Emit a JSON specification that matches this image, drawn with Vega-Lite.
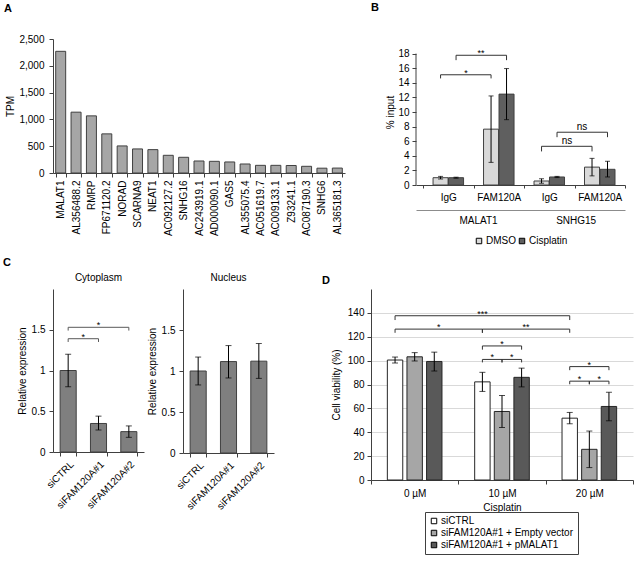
{
  "$schema": "https://vega.github.io/schema/vega-lite/v6.json",
  "padding": {"left": 3, "top": 2, "right": 0, "bottom": 0},
  "config": {
    "font": "Liberation Sans",
    "view": {"stroke": null},
    "axis": {"labelFont": "Liberation Sans", "titleFont": "Liberation Sans", "labelFontSize": 10, "titleFontSize": 10, "titleFontWeight": "normal", "labelColor": "#000", "titleColor": "#000", "domainColor": "#404040", "tickColor": "#404040", "tickSize": 4, "grid": false, "labelPadding": 3, "titlePadding": 4, "labelOverlap": false},
    "title": {"font": "Liberation Sans", "fontSize": 11, "fontWeight": "bold", "anchor": "start", "frame": "group", "color": "#000"},
    "legend": {"labelFont": "Liberation Sans", "labelFontSize": 10, "labelColor": "#000", "symbolType": "square", "symbolSize": 30, "symbolStrokeColor": "#000", "symbolStrokeWidth": 1}
  },
  "datasets": {
    "tpm": [
      {"gene": "MALAT1", "tpm": 2270}, {"gene": "AL356488.2", "tpm": 1135}, {"gene": "RMRP", "tpm": 1066},
      {"gene": "FP671120.2", "tpm": 730}, {"gene": "NORAD", "tpm": 505}, {"gene": "SCARNA9", "tpm": 449},
      {"gene": "NEAT1", "tpm": 436}, {"gene": "AC092127.2", "tpm": 330}, {"gene": "SNHG16", "tpm": 293},
      {"gene": "AC243919.1", "tpm": 224}, {"gene": "AD000090.1", "tpm": 218}, {"gene": "GAS5", "tpm": 206},
      {"gene": "AL355075.4", "tpm": 168}, {"gene": "AC051619.7", "tpm": 143}, {"gene": "AC009133.1", "tpm": 143},
      {"gene": "Z93241.1", "tpm": 140}, {"gene": "AC087190.3", "tpm": 125}, {"gene": "SNHG6", "tpm": 90},
      {"gene": "AL365181.3", "tpm": 92}
    ],
    "rip": [
      {"cat": "MALAT1 IgG", "gene": "MALAT1", "treat": "DMSO", "v": 1.0, "lo": 0.82, "hi": 1.18},
      {"cat": "MALAT1 IgG", "gene": "MALAT1", "treat": "Cisplatin", "v": 1.0, "lo": 0.93, "hi": 1.07},
      {"cat": "MALAT1 FAM120A", "gene": "MALAT1", "treat": "DMSO", "v": 7.65, "lo": 3.1, "hi": 12.2},
      {"cat": "MALAT1 FAM120A", "gene": "MALAT1", "treat": "Cisplatin", "v": 12.45, "lo": 8.95, "hi": 15.95},
      {"cat": "SNHG15 IgG", "gene": "SNHG15", "treat": "DMSO", "v": 0.55, "lo": 0.25, "hi": 0.85},
      {"cat": "SNHG15 IgG", "gene": "SNHG15", "treat": "Cisplatin", "v": 1.1, "lo": 1.02, "hi": 1.18},
      {"cat": "SNHG15 FAM120A", "gene": "SNHG15", "treat": "DMSO", "v": 2.45, "lo": 1.25, "hi": 3.65},
      {"cat": "SNHG15 FAM120A", "gene": "SNHG15", "treat": "Cisplatin", "v": 2.15, "lo": 1.1, "hi": 3.25}
    ],
    "ripBrackets": [
      {"id": "b1", "k": 0, "cat": "MALAT1 IgG", "treat": "DMSO", "y": 14.6},
      {"id": "b1", "k": 1, "cat": "MALAT1 IgG", "treat": "DMSO", "y": 15.1},
      {"id": "b1", "k": 2, "cat": "MALAT1 FAM120A", "treat": "DMSO", "y": 15.1},
      {"id": "b1", "k": 3, "cat": "MALAT1 FAM120A", "treat": "DMSO", "y": 14.6},
      {"id": "b2", "k": 0, "cat": "MALAT1 IgG", "treat": "Cisplatin", "y": 17.1},
      {"id": "b2", "k": 1, "cat": "MALAT1 IgG", "treat": "Cisplatin", "y": 17.77},
      {"id": "b2", "k": 2, "cat": "MALAT1 FAM120A", "treat": "Cisplatin", "y": 17.77},
      {"id": "b2", "k": 3, "cat": "MALAT1 FAM120A", "treat": "Cisplatin", "y": 17.1},
      {"id": "b3", "k": 0, "cat": "SNHG15 IgG", "treat": "DMSO", "y": 4.6},
      {"id": "b3", "k": 1, "cat": "SNHG15 IgG", "treat": "DMSO", "y": 5.3},
      {"id": "b3", "k": 2, "cat": "SNHG15 FAM120A", "treat": "DMSO", "y": 5.3},
      {"id": "b3", "k": 3, "cat": "SNHG15 FAM120A", "treat": "DMSO", "y": 4.6},
      {"id": "b4", "k": 0, "cat": "SNHG15 IgG", "treat": "Cisplatin", "y": 6.55},
      {"id": "b4", "k": 1, "cat": "SNHG15 IgG", "treat": "Cisplatin", "y": 7.23},
      {"id": "b4", "k": 2, "cat": "SNHG15 FAM120A", "treat": "Cisplatin", "y": 7.23},
      {"id": "b4", "k": 3, "cat": "SNHG15 FAM120A", "treat": "Cisplatin", "y": 6.55}
    ],
    "ripStarR": [{"cat": "MALAT1 IgG", "treat": "Cisplatin", "y": 15.1, "label": "*"}],
    "ripStarL": [{"cat": "MALAT1 FAM120A", "treat": "DMSO", "y": 17.77, "label": "**"}],
    "ripNsR": [{"cat": "SNHG15 IgG", "treat": "Cisplatin", "y": 5.3, "label": "ns"}],
    "ripNsL": [{"cat": "SNHG15 FAM120A", "treat": "DMSO", "y": 7.23, "label": "ns"}],
    "cyto": [
      {"cond": "siCTRL", "v": 1.0, "lo": 0.8, "hi": 1.2},
      {"cond": "siFAM120A#1", "v": 0.35, "lo": 0.27, "hi": 0.44},
      {"cond": "siFAM120A#2", "v": 0.25, "lo": 0.18, "hi": 0.32}
    ],
    "nuc": [
      {"cond": "siCTRL", "v": 1.0, "lo": 0.83, "hi": 1.17},
      {"cond": "siFAM120A#1", "v": 1.115, "lo": 0.915, "hi": 1.31},
      {"cond": "siFAM120A#2", "v": 1.12, "lo": 0.91, "hi": 1.335}
    ],
    "cytoBrackets": [
      {"id": "c1", "k": 0, "cond": "siCTRL", "y": 1.35},
      {"id": "c1", "k": 1, "cond": "siCTRL", "y": 1.39},
      {"id": "c1", "k": 2, "cond": "siFAM120A#1", "y": 1.39},
      {"id": "c1", "k": 3, "cond": "siFAM120A#1", "y": 1.35},
      {"id": "c2", "k": 0, "cond": "siCTRL", "y": 1.49},
      {"id": "c2", "k": 1, "cond": "siCTRL", "y": 1.53},
      {"id": "c2", "k": 2, "cond": "siFAM120A#2", "y": 1.53},
      {"id": "c2", "k": 3, "cond": "siFAM120A#2", "y": 1.49}
    ],
    "cytoStarMid": [{"cond": "siFAM120A#1", "y": 1.53, "label": "*"}],
    "cytoStarHalf": [{"cond": "siCTRL", "y": 1.39, "label": "*"}],
    "via": [
      {"dose": "0 µM", "grp": "siCTRL", "v": 100.5, "lo": 98.0, "hi": 103.0},
      {"dose": "0 µM", "grp": "siFAM120A#1 + Empty vector", "v": 103.2, "lo": 99.7, "hi": 106.7},
      {"dose": "0 µM", "grp": "siFAM120A#1 + pMALAT1", "v": 99.3, "lo": 91.3, "hi": 107.1},
      {"dose": "10 µM", "grp": "siCTRL", "v": 82.2, "lo": 74.2, "hi": 90.2},
      {"dose": "10 µM", "grp": "siFAM120A#1 + Empty vector", "v": 57.4, "lo": 44.0, "hi": 70.8},
      {"dose": "10 µM", "grp": "siFAM120A#1 + pMALAT1", "v": 86.0, "lo": 78.0, "hi": 93.7},
      {"dose": "20 µM", "grp": "siCTRL", "v": 51.8, "lo": 47.1, "hi": 56.6},
      {"dose": "20 µM", "grp": "siFAM120A#1 + Empty vector", "v": 25.7, "lo": 10.4, "hi": 41.0},
      {"dose": "20 µM", "grp": "siFAM120A#1 + pMALAT1", "v": 61.6, "lo": 49.6, "hi": 73.5}
    ],
    "viaBrackets": [
      {"id": "d1", "k": 0, "dose": "0 µM", "grp": "siCTRL", "y": 134},
      {"id": "d1", "k": 1, "dose": "0 µM", "grp": "siCTRL", "y": 137.6},
      {"id": "d1", "k": 2, "dose": "20 µM", "grp": "siCTRL", "y": 137.6},
      {"id": "d1", "k": 3, "dose": "20 µM", "grp": "siCTRL", "y": 134},
      {"id": "d2", "k": 0, "dose": "0 µM", "grp": "siCTRL", "y": 123.3},
      {"id": "d2", "k": 1, "dose": "0 µM", "grp": "siCTRL", "y": 126.4},
      {"id": "d2", "k": 2, "dose": "10 µM", "grp": "siCTRL", "y": 126.4},
      {"id": "d2", "k": 3, "dose": "10 µM", "grp": "siCTRL", "y": 123.3},
      {"id": "d3", "k": 0, "dose": "10 µM", "grp": "siCTRL", "y": 123.3},
      {"id": "d3", "k": 1, "dose": "10 µM", "grp": "siCTRL", "y": 126.4},
      {"id": "d3", "k": 2, "dose": "20 µM", "grp": "siCTRL", "y": 126.4},
      {"id": "d3", "k": 3, "dose": "20 µM", "grp": "siCTRL", "y": 123.3},
      {"id": "d4", "k": 0, "dose": "10 µM", "grp": "siCTRL", "y": 109.2},
      {"id": "d4", "k": 1, "dose": "10 µM", "grp": "siCTRL", "y": 112.3},
      {"id": "d4", "k": 2, "dose": "10 µM", "grp": "siFAM120A#1 + pMALAT1", "y": 112.3},
      {"id": "d4", "k": 3, "dose": "10 µM", "grp": "siFAM120A#1 + pMALAT1", "y": 109.2},
      {"id": "d5", "k": 0, "dose": "10 µM", "grp": "siCTRL", "y": 98.5},
      {"id": "d5", "k": 1, "dose": "10 µM", "grp": "siCTRL", "y": 101},
      {"id": "d5", "k": 2, "dose": "10 µM", "grp": "siFAM120A#1 + Empty vector", "y": 101},
      {"id": "d5", "k": 3, "dose": "10 µM", "grp": "siFAM120A#1 + Empty vector", "y": 98.5},
      {"id": "d6", "k": 0, "dose": "10 µM", "grp": "siFAM120A#1 + Empty vector", "y": 98.5},
      {"id": "d6", "k": 1, "dose": "10 µM", "grp": "siFAM120A#1 + Empty vector", "y": 101},
      {"id": "d6", "k": 2, "dose": "10 µM", "grp": "siFAM120A#1 + pMALAT1", "y": 101},
      {"id": "d6", "k": 3, "dose": "10 µM", "grp": "siFAM120A#1 + pMALAT1", "y": 98.5},
      {"id": "d7", "k": 0, "dose": "20 µM", "grp": "siCTRL", "y": 92},
      {"id": "d7", "k": 1, "dose": "20 µM", "grp": "siCTRL", "y": 95},
      {"id": "d7", "k": 2, "dose": "20 µM", "grp": "siFAM120A#1 + pMALAT1", "y": 95},
      {"id": "d7", "k": 3, "dose": "20 µM", "grp": "siFAM120A#1 + pMALAT1", "y": 92},
      {"id": "d8", "k": 0, "dose": "20 µM", "grp": "siCTRL", "y": 80.2},
      {"id": "d8", "k": 1, "dose": "20 µM", "grp": "siCTRL", "y": 82.8},
      {"id": "d8", "k": 2, "dose": "20 µM", "grp": "siFAM120A#1 + Empty vector", "y": 82.8},
      {"id": "d8", "k": 3, "dose": "20 µM", "grp": "siFAM120A#1 + Empty vector", "y": 80.2},
      {"id": "d9", "k": 0, "dose": "20 µM", "grp": "siFAM120A#1 + Empty vector", "y": 80.2},
      {"id": "d9", "k": 1, "dose": "20 µM", "grp": "siFAM120A#1 + Empty vector", "y": 82.8},
      {"id": "d9", "k": 2, "dose": "20 µM", "grp": "siFAM120A#1 + pMALAT1", "y": 82.8},
      {"id": "d9", "k": 3, "dose": "20 µM", "grp": "siFAM120A#1 + pMALAT1", "y": 80.2}
    ],
    "viaStarMid": [
      {"dose": "10 µM", "grp": "siCTRL", "y": 137.6, "label": "***"},
      {"dose": "10 µM", "grp": "siFAM120A#1 + Empty vector", "y": 112.3, "label": "*"},
      {"dose": "20 µM", "grp": "siFAM120A#1 + Empty vector", "y": 95, "label": "*"}
    ],
    "viaStarDose": [
      {"dose": "0 µM", "grp": "siFAM120A#1 + pMALAT1", "y": 126.4, "label": "*"},
      {"dose": "10 µM", "grp": "siFAM120A#1 + pMALAT1", "y": 126.4, "label": "**"}
    ],
    "viaStarPair": [
      {"dose": "10 µM", "grp": "siCTRL", "y": 101, "label": "*"},
      {"dose": "10 µM", "grp": "siFAM120A#1 + Empty vector", "y": 101, "label": "*"},
      {"dose": "20 µM", "grp": "siCTRL", "y": 82.8, "label": "*"},
      {"dose": "20 µM", "grp": "siFAM120A#1 + Empty vector", "y": 82.8, "label": "*"}
    ]
  },
  "bounds": "full",
  "spacing": 11,
  "resolve": {"scale": {"color": "independent", "xOffset": "independent"}, "legend": {"color": "independent"}},
  "vconcat": [
    {
      "bounds": "flush",
      "spacing": 71,
      "resolve": {"scale": {"color": "independent", "xOffset": "independent"}, "legend": {"color": "independent"}},
      "hconcat": [
        {
          "width": 292,
          "height": 134,
          "title": {"text": "A", "dx": -49, "offset": 20},
          "data": {"name": "tpm"},
          "mark": {"type": "bar", "fill": "#a6a6a6", "stroke": "#404040", "strokeWidth": 1},
          "encoding": {
            "x": {"field": "gene", "type": "nominal", "sort": null, "scale": {"paddingInner": 0.35, "paddingOuter": 0.175}, "axis": {"title": null, "labelAngle": -90, "labelAlign": "right", "labelBaseline": "middle", "tickBand": "extent", "labelPadding": 3}},
            "y": {"field": "tpm", "type": "quantitative", "scale": {"domain": [0, 2500]}, "axis": {"title": "TPM", "format": ",d", "values": [0, 500, 1000, 1500, 2000, 2500], "tickCount": 30, "labelPadding": 5, "titlePadding": 3}}
          }
        },
        {
          "width": 209,
          "height": 146,
          "title": {"text": "B", "dx": -45, "offset": 26},
          "resolve": {"scale": {"x": "independent"}, "axis": {"x": "independent"}},
          "layer": [
            {
              "encoding": {
                "x": {"field": "cat", "type": "nominal", "sort": null, "scale": {"domain": ["MALAT1 IgG", "MALAT1 FAM120A", "SNHG15 IgG", "SNHG15 FAM120A"], "paddingInner": 0, "paddingOuter": 0.07, "align": 1}, "axis": {"orient": "bottom", "title": null, "labelAngle": 0, "labelExpr": "split(datum.label, ' ')[1]", "tickBand": "extent", "tickSize": 3, "labelPadding": 4}},
                "xOffset": {"field": "treat", "type": "nominal", "sort": null, "scale": {"domain": ["DMSO", "Cisplatin"], "paddingInner": 0.03, "paddingOuter": 0.645}}
              },
              "layer": [
                {
                  "data": {"name": "rip"},
                  "mark": {"type": "bar", "stroke": "#404040", "strokeWidth": 1},
                  "encoding": {
                    "y": {"field": "v", "type": "quantitative", "scale": {"domain": [0, 20]}, "axis": {"title": "% input", "values": [0, 2, 4, 6, 8, 10, 12, 14, 16, 18], "tickCount": 30, "format": "d", "domain": false, "titlePadding": 2}},
                    "color": {"field": "treat", "type": "nominal", "sort": null, "scale": {"domain": ["DMSO", "Cisplatin"], "range": ["#d9d9d9", "#5f5f5f"]}, "legend": {"orient": "none", "legendX": 58, "legendY": 197, "direction": "horizontal", "title": null, "columnPadding": 1, "labelOffset": 2}}
                  }
                },
                {
                  "data": {"name": "rip"},
                  "mark": {"type": "rule", "color": "#000", "strokeWidth": 1},
                  "encoding": {"y": {"field": "lo", "type": "quantitative"}, "y2": {"field": "hi"}}
                },
                {
                  "data": {"name": "rip"},
                  "mark": {"type": "tick", "color": "#000", "size": 5, "thickness": 1},
                  "encoding": {"y": {"field": "lo", "type": "quantitative"}}
                },
                {
                  "data": {"name": "rip"},
                  "mark": {"type": "tick", "color": "#000", "size": 5, "thickness": 1},
                  "encoding": {"y": {"field": "hi", "type": "quantitative"}}
                },
                {
                  "data": {"name": "ripBrackets"},
                  "mark": {"type": "line", "color": "#333", "strokeWidth": 1},
                  "encoding": {"y": {"field": "y", "type": "quantitative"}, "detail": {"field": "id"}, "order": {"field": "k", "type": "quantitative"}}
                },
                {
                  "data": {"name": "ripStarR"},
                  "mark": {"type": "text", "fontSize": 9, "dx": 10, "dy": 1, "baseline": "alphabetic"},
                  "encoding": {"y": {"field": "y", "type": "quantitative"}, "text": {"field": "label"}}
                },
                {
                  "data": {"name": "ripStarL"},
                  "mark": {"type": "text", "fontSize": 9, "dx": -10, "dy": 1, "baseline": "alphabetic"},
                  "encoding": {"y": {"field": "y", "type": "quantitative"}, "text": {"field": "label"}}
                },
                {
                  "data": {"name": "ripNsR"},
                  "mark": {"type": "text", "fontSize": 10, "dx": 10, "dy": -2, "baseline": "alphabetic"},
                  "encoding": {"y": {"field": "y", "type": "quantitative"}, "text": {"field": "label"}}
                },
                {
                  "data": {"name": "ripNsL"},
                  "mark": {"type": "text", "fontSize": 10, "dx": -10, "dy": -2, "baseline": "alphabetic"},
                  "encoding": {"y": {"field": "y", "type": "quantitative"}, "text": {"field": "label"}}
                }
              ]
            },
            {
              "data": {"values": [{"axis": "y"}]},
              "mark": {"type": "rule", "color": "#404040"},
              "encoding": {
                "x": {"datum": 0, "type": "quantitative", "scale": {"domain": [0, 1]}, "axis": null},
                "y": {"datum": 0, "type": "quantitative"},
                "y2": {"datum": 18}
              }
            },
            {
              "data": {"name": "rip"},
              "mark": {"type": "tick", "opacity": 0},
              "encoding": {
                "x": {"field": "gene", "type": "nominal", "sort": null, "scale": {"domain": ["MALAT1", "SNHG15"], "paddingInner": 0, "paddingOuter": 0.07, "align": 1}, "axis": {"orient": "bottom", "offset": 25, "title": null, "ticks": false, "labelAngle": 0, "labelPadding": 5, "domainColor": "#8c8c8c"}},
                "y": {"field": "v", "type": "quantitative"}
              }
            }
          ]
        }
      ]
    },
    {
      "title": {"text": "C", "dx": -50, "offset": 5},
      "bounds": "full",
      "spacing": 48,
      "resolve": {"scale": {"color": "independent", "xOffset": "independent"}, "legend": {"color": "independent"}},
      "hconcat": [
        {
          "bounds": "flush",
          "spacing": 39,
          "hconcat": [
            {
              "width": 91,
              "height": 163,
              "title": {"text": "Cytoplasm", "anchor": "middle", "fontSize": 10, "fontWeight": "normal", "offset": 6},
              "encoding": {
                "x": {"field": "cond", "type": "nominal", "sort": null, "scale": {"domain": ["siCTRL", "siFAM120A#1", "siFAM120A#2"], "paddingInner": 0.47, "paddingOuter": 0.235}, "axis": {"title": null, "labelAngle": -45, "tickBand": "extent"}}
              },
              "layer": [
                {
                  "data": {"name": "cyto"},
                  "mark": {"type": "bar", "fill": "#7f7f7f", "stroke": "#404040", "strokeWidth": 1},
                  "encoding": {"y": {"field": "v", "type": "quantitative", "scale": {"domain": [0, 1.82]}, "axis": {"title": "Relative expression", "values": [0, 0.5, 1, 1.5], "tickCount": 30, "format": "~g", "labelPadding": 4}}}
                },
                {"data": {"name": "cyto"}, "mark": {"type": "rule", "color": "#000"}, "encoding": {"y": {"field": "lo", "type": "quantitative"}, "y2": {"field": "hi"}}},
                {"data": {"name": "cyto"}, "mark": {"type": "tick", "color": "#000", "size": 6, "thickness": 1}, "encoding": {"y": {"field": "lo", "type": "quantitative"}}},
                {"data": {"name": "cyto"}, "mark": {"type": "tick", "color": "#000", "size": 6, "thickness": 1}, "encoding": {"y": {"field": "hi", "type": "quantitative"}}},
                {
                  "data": {"name": "cytoBrackets"},
                  "mark": {"type": "line", "color": "#595959", "strokeWidth": 1},
                  "encoding": {"y": {"field": "y", "type": "quantitative"}, "detail": {"field": "id"}, "order": {"field": "k", "type": "quantitative"}}
                },
                {
                  "data": {"name": "cytoStarMid"},
                  "mark": {"type": "text", "fontSize": 9, "dy": 1, "baseline": "alphabetic"},
                  "encoding": {"y": {"field": "y", "type": "quantitative"}, "text": {"field": "label"}}
                },
                {
                  "data": {"name": "cytoStarHalf"},
                  "mark": {"type": "text", "fontSize": 9, "dx": 15.2, "dy": 1, "baseline": "alphabetic"},
                  "encoding": {"y": {"field": "y", "type": "quantitative"}, "text": {"field": "label"}}
                }
              ]
            },
            {
              "width": 91,
              "height": 164,
              "title": {"text": "Nucleus", "anchor": "middle", "fontSize": 10, "fontWeight": "normal", "offset": 6},
              "encoding": {
                "x": {"field": "cond", "type": "nominal", "sort": null, "scale": {"domain": ["siCTRL", "siFAM120A#1", "siFAM120A#2"], "paddingInner": 0.47, "paddingOuter": 0.235}, "axis": {"title": null, "labelAngle": -45, "tickBand": "extent"}}
              },
              "layer": [
                {
                  "data": {"name": "nuc"},
                  "mark": {"type": "bar", "fill": "#7f7f7f", "stroke": "#404040", "strokeWidth": 1},
                  "encoding": {"y": {"field": "v", "type": "quantitative", "scale": {"domain": [0, 1.87]}, "axis": {"title": "Relative expression", "values": [0, 0.5, 1, 1.5], "tickCount": 30, "format": "~g", "labelPadding": 4}}}
                },
                {"data": {"name": "nuc"}, "mark": {"type": "rule", "color": "#000"}, "encoding": {"y": {"field": "lo", "type": "quantitative"}, "y2": {"field": "hi"}}},
                {"data": {"name": "nuc"}, "mark": {"type": "tick", "color": "#000", "size": 6, "thickness": 1}, "encoding": {"y": {"field": "lo", "type": "quantitative"}}},
                {"data": {"name": "nuc"}, "mark": {"type": "tick", "color": "#000", "size": 6, "thickness": 1}, "encoding": {"y": {"field": "hi", "type": "quantitative"}}}
              ]
            }
          ]
        },
        {
          "width": 262,
          "height": 191,
          "title": {"text": "D", "dx": -49, "offset": 3},
          "encoding": {
            "x": {"field": "dose", "type": "nominal", "sort": null, "scale": {"domain": ["0 µM", "10 µM", "20 µM"], "paddingInner": 0, "paddingOuter": 0}, "axis": {"title": "Cisplatin", "labelAngle": 0, "tickBand": "extent", "labelPadding": 4, "titlePadding": 4}},
            "xOffset": {"field": "grp", "type": "nominal", "sort": null, "scale": {"domain": ["siCTRL", "siFAM120A#1 + Empty vector", "siFAM120A#1 + pMALAT1"], "paddingInner": 0.214, "paddingOuter": 0.834}}
          },
          "layer": [
            {
              "data": {"name": "via"},
              "mark": {"type": "bar", "stroke": "#262626", "strokeWidth": 1},
              "encoding": {
                "y": {"field": "v", "type": "quantitative", "scale": {"domain": [0, 150]}, "axis": {"title": "Cell viability (%)", "values": [0, 20, 40, 60, 80, 100, 120, 140], "tickCount": 30, "format": "d", "grid": true, "gridColor": "#d9d9d9", "labelPadding": 3, "titlePadding": 6}},
                "color": {"field": "grp", "type": "nominal", "sort": null, "scale": {"domain": ["siCTRL", "siFAM120A#1 + Empty vector", "siFAM120A#1 + pMALAT1"], "range": ["#ffffff", "#a6a6a6", "#595959"]}, "legend": {"orient": "none", "legendX": 54, "legendY": 223, "direction": "vertical", "title": null, "padding": 4, "strokeColor": "#404040", "fillColor": "#ffffff", "rowPadding": 2, "labelOffset": 2}}
              }
            },
            {"data": {"name": "via"}, "mark": {"type": "rule", "color": "#000"}, "encoding": {"y": {"field": "lo", "type": "quantitative"}, "y2": {"field": "hi"}}},
            {"data": {"name": "via"}, "mark": {"type": "tick", "color": "#000", "size": 6, "thickness": 1}, "encoding": {"y": {"field": "lo", "type": "quantitative"}}},
            {"data": {"name": "via"}, "mark": {"type": "tick", "color": "#000", "size": 6, "thickness": 1}, "encoding": {"y": {"field": "hi", "type": "quantitative"}}},
            {
              "data": {"name": "viaBrackets"},
              "mark": {"type": "line", "color": "#333", "strokeWidth": 1},
              "encoding": {"y": {"field": "y", "type": "quantitative"}, "detail": {"field": "id"}, "order": {"field": "k", "type": "quantitative"}}
            },
            {
              "data": {"name": "viaStarMid"},
              "mark": {"type": "text", "fontSize": 9, "dy": 1, "baseline": "alphabetic"},
              "encoding": {"y": {"field": "y", "type": "quantitative"}, "text": {"field": "label"}}
            },
            {
              "data": {"name": "viaStarDose"},
              "mark": {"type": "text", "fontSize": 9, "dx": 4.4, "dy": 1, "baseline": "alphabetic"},
              "encoding": {"y": {"field": "y", "type": "quantitative"}, "text": {"field": "label"}}
            },
            {
              "data": {"name": "viaStarPair"},
              "mark": {"type": "text", "fontSize": 9, "dx": 9.8, "dy": 1, "baseline": "alphabetic"},
              "encoding": {"y": {"field": "y", "type": "quantitative"}, "text": {"field": "label"}}
            }
          ]
        }
      ]
    }
  ]
}
